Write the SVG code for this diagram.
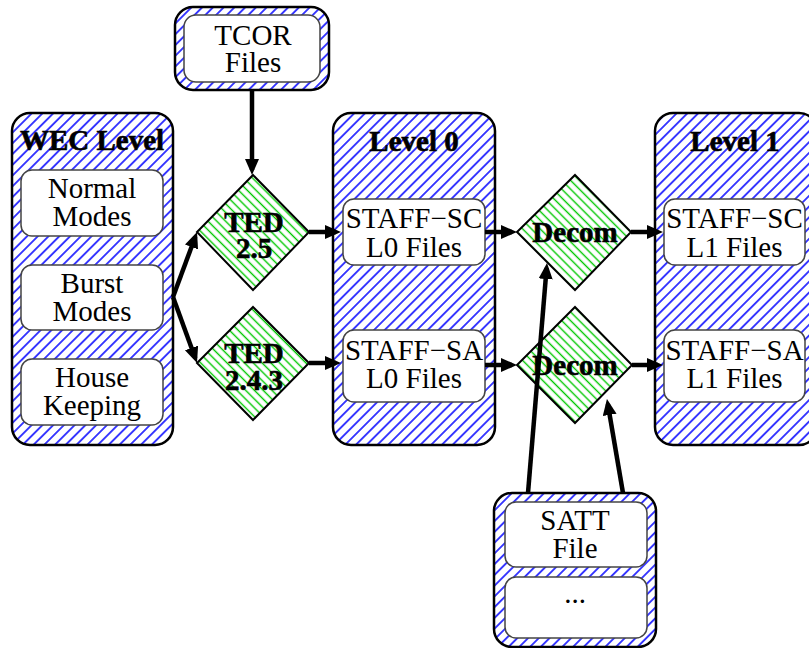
<svg xmlns="http://www.w3.org/2000/svg" width="809" height="648" viewBox="0 0 809 648">
<style>
.cont{fill:url(#blueHatch);stroke:#000;stroke-width:2.5}
.inner{fill:#fff;stroke:#444;stroke-width:1.5}
.dia{fill:url(#greenHatch);stroke:#000;stroke-width:2}
text{font-family:'Liberation Serif','Times New Roman',Times,serif;fill:#000;text-anchor:middle;font-size:29px}
.b{font-weight:bold;stroke:#000;stroke-width:0.6}
.arr{fill:none;stroke:#000;stroke-width:4.5;marker-end:url(#ah)}
</style>
<defs>
<pattern id="blueHatch" patternUnits="userSpaceOnUse" width="7.6" height="7.6" patternTransform="rotate(45)">
<rect width="7.6" height="7.6" fill="#fff"/>
<line x1="3.8" y1="0" x2="3.8" y2="7.6" stroke="#0000ff" stroke-width="1.5"/>
</pattern>
<pattern id="greenHatch" patternUnits="userSpaceOnUse" width="6.2" height="6.2" patternTransform="rotate(-45)">
<rect width="6.2" height="6.2" fill="#fff"/>
<line x1="3.1" y1="0" x2="3.1" y2="6.2" stroke="#00c800" stroke-width="1.4"/>
</pattern>
<marker id="ah" markerUnits="userSpaceOnUse" markerWidth="18" markerHeight="16" refX="11" refY="7" orient="auto">
<path d="M0,0 L16,7 L0,14 z" fill="#000"/>
</marker>
</defs>

<g id="wec">
<rect class="cont" x="12" y="113" width="161" height="332" rx="18"/>
<text class="b" x="92" y="150" font-size="30">WEC Level</text>
</g>
<g id="normal">
<rect class="inner" x="21" y="170" width="142" height="66" rx="11"/>
<text x="92" y="198">Normal</text>
<text x="92" y="226">Modes</text>
</g>
<g id="burst">
<rect class="inner" x="21" y="265" width="142" height="65" rx="11"/>
<text x="92" y="293">Burst</text>
<text x="92" y="321">Modes</text>
</g>
<g id="house">
<rect class="inner" x="21" y="359" width="142" height="66" rx="11"/>
<text x="92" y="387">House</text>
<text x="92" y="415">Keeping</text>
</g>

<g id="tcor">
<rect class="cont" x="175" y="7" width="154" height="83" rx="18"/>
<rect class="inner" x="184" y="15" width="136" height="67" rx="12"/>
<text x="253" y="45">TCOR</text>
<text x="253" y="72">Files</text>
</g>

<g id="ted25">
<polygon class="dia" points="253,175 309,232 253,290 197,232"/>
<text class="b" x="254" y="232">TED</text>
<text class="b" x="254" y="258">2.5</text>
</g>
<g id="ted243">
<polygon class="dia" points="253,307 309,363 253,420 197,363"/>
<text class="b" x="254" y="363">TED</text>
<text class="b" x="254" y="390">2.4.3</text>
</g>

<g id="level0">
<rect class="cont" x="333" y="113" width="162" height="332" rx="18"/>
<text class="b" x="414" y="151">Level 0</text>
</g>
<g id="sc0">
<rect class="inner" x="343" y="199" width="142" height="66" rx="11"/>
<text x="414" y="228">STAFF−SC</text>
<text x="414" y="257">L0 Files</text>
</g>
<g id="sa0">
<rect class="inner" x="343" y="330" width="142" height="72" rx="11"/>
<text x="414" y="360">STAFF−SA</text>
<text x="414" y="388">L0 Files</text>
</g>

<g id="decom1">
<polygon class="dia" points="575,175 631,232 575,290 517,232"/>
<text class="b" x="575" y="242">Decom</text>
</g>
<g id="decom2">
<polygon class="dia" points="575,307 632,365 575,423 517,365"/>
<text class="b" x="575" y="375">Decom</text>
</g>

<g id="level1">
<rect class="cont" x="655" y="113" width="162" height="332" rx="18"/>
<text class="b" x="735" y="151">Level 1</text>
</g>
<g id="sc1">
<rect class="inner" x="664" y="199" width="141" height="66" rx="11"/>
<text x="734.5" y="228">STAFF−SC</text>
<text x="734.5" y="257">L1 Files</text>
</g>
<g id="sa1">
<rect class="inner" x="664" y="330" width="141" height="72" rx="11"/>
<text x="734.5" y="360">STAFF−SA</text>
<text x="734.5" y="388">L1 Files</text>
</g>

<g id="satt">
<rect class="cont" x="494" y="493" width="162" height="154" rx="18"/>
<rect class="inner" x="505" y="502" width="142" height="65" rx="11"/>
<text x="575" y="530">SATT</text>
<text x="575" y="558">File</text>
<rect class="inner" x="505" y="577" width="142" height="61" rx="11"/>
<text x="575" y="603">...</text>
</g>

<g id="connectors">
<line class="arr" x1="252" y1="90" x2="252" y2="170"/>
<line class="arr" x1="173" y1="297" x2="195.3" y2="236.7"/>
<line class="arr" x1="173" y1="297" x2="195.3" y2="358.3"/>
<line class="arr" x1="309" y1="232" x2="336" y2="232"/>
<line class="arr" x1="309" y1="363" x2="336" y2="363"/>
<line class="arr" x1="485" y1="232" x2="512" y2="232"/>
<line class="arr" x1="485" y1="365" x2="512" y2="365"/>
<line class="arr" x1="631" y1="232" x2="658" y2="232"/>
<line class="arr" x1="632" y1="365" x2="658" y2="365"/>
<line class="arr" x1="528" y1="493" x2="546.6" y2="268"/>
<line class="arr" x1="623" y1="493" x2="607.8" y2="404"/>
</g>
</svg>
